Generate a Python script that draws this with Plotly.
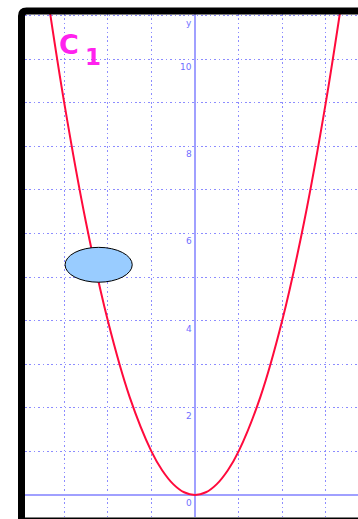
import plotly.graph_objects as go

# Curve C1 points
curve_x = [-3.4, -3.0, -2.5, -2.0, -1.5, -1.0, -0.75, -0.5, -0.25, 0.0,
           0.25, 0.5, 0.75, 1.0, 1.5, 2.0, 2.5, 3.0, 3.4]
curve_y = [11.56, 9.0, 6.25, 4.0, 2.25, 1.0, 0.5625, 0.25, 0.0625, 0.0,
           0.0625, 0.25, 0.5625, 1.0, 2.25, 4.0, 6.25, 9.0, 11.56]

# tick labels drawn along the y axis
y_tick_vals = [0, 2, 4, 6, 8, 10]
y_tick_text = ["0", "2", "4", "6", "8", "10"]

# blue ellipse (center / half-widths in data units)
ellipse_cx, ellipse_cy = -2.21, 5.28
ellipse_rx, ellipse_ry = 0.77, 0.40

label_text = ["C", "1"]

W, H = 358, 519
ML, MT, MB, MR = 25, 14, 2, 0
ppu = 43.6
x0_px, y0_px = 195, 495
x_range = [(ML - x0_px) / ppu, (W - MR - x0_px) / ppu]
y_range = [-(H - MB - y0_px) / ppu, (y0_px - MT) / ppu]

grid_col = "#8c8cff"
axis_col = "#a0a0ff"

fig = go.Figure()
fig.add_trace(go.Scatter(
    x=curve_x, y=curve_y, mode="lines",
    line=dict(color="#ff0a3c", width=2, shape="spline", smoothing=1.0),
    hoverinfo="skip", showlegend=False,
))

annotations = []
for v, t in zip(y_tick_vals, y_tick_text):
    annotations.append(dict(
        x=0, y=v, xref="x", yref="y", text=t, showarrow=False,
        xanchor="right", yanchor="top", xshift=-1, yshift=-1,
        font=dict(size=9, color="#7070ff", family="DejaVu Sans"),
    ))
annotations.append(dict(
    x=0, y=y_range[1], xref="x", yref="y", text="y", showarrow=False,
    xanchor="right", yanchor="top", xshift=-1, yshift=-2,
    font=dict(size=9, color="#7070ff", family="DejaVu Sans"),
))
annotations.append(dict(
    x=-2.9, y=10.33, xref="x", yref="y", text="<b>" + label_text[0] + "</b>", showarrow=False,
    xanchor="center", yanchor="middle",
    font=dict(size=27, color="#ff22ee", family="DejaVu Sans"),
))
annotations.append(dict(
    x=-2.35, y=10.05, xref="x", yref="y", text="<b>" + label_text[1] + "</b>", showarrow=False,
    xanchor="center", yanchor="middle",
    font=dict(size=23, color="#ff22ee", family="DejaVu Sans"),
))

def px_to_paper_x(px):
    return (px - ML) / (W - ML - MR)

def px_to_paper_y(py):
    return (H - MB - py) / (H - MT - MB)

shapes = [
    dict(type="circle", xref="x", yref="y",
         x0=ellipse_cx - ellipse_rx, x1=ellipse_cx + ellipse_rx,
         y0=ellipse_cy - ellipse_ry, y1=ellipse_cy + ellipse_ry,
         fillcolor="#99ccff", line=dict(color="black", width=1), layer="above"),
]
# black frame
fl, ft, fb, fr = px_to_paper_x(21.5), px_to_paper_y(11), px_to_paper_y(521), px_to_paper_x(370)
rx = 5 / (W - ML - MR)
ry = 5 / (H - MT - MB)
path = (f"M {fl},{fb} L {fl},{ft - ry} Q {fl},{ft} {fl + rx},{ft} L {fr},{ft}")
shapes.append(dict(type="path", xref="paper", yref="paper", path=path,
                   line=dict(color="black", width=7), layer="above"))
shapes.append(dict(type="line", xref="paper", yref="paper",
                   x0=fl, x1=fr, y0=fb, y1=fb, line=dict(color="black", width=7)))

fig.update_layout(
    width=W, height=H,
    margin=dict(l=ML, r=MR, t=MT, b=MB, pad=0),
    paper_bgcolor="white", plot_bgcolor="white",
    xaxis=dict(range=x_range, dtick=1, tick0=0, showgrid=True, gridcolor=grid_col,
               griddash="1.5px,2.9px", gridwidth=1, zeroline=True, zerolinecolor=axis_col,
               zerolinewidth=2, showticklabels=False, ticks="", showline=False,
               fixedrange=True),
    yaxis=dict(range=y_range, dtick=1, tick0=0, showgrid=True, gridcolor=grid_col,
               griddash="1.5px,2.9px", gridwidth=1, zeroline=True, zerolinecolor=axis_col,
               zerolinewidth=2, showticklabels=False, ticks="", showline=False,
               fixedrange=True),
    annotations=annotations,
    shapes=shapes,
    showlegend=False,
)

fig.write_html(
    "out.html",
    config={"displayModeBar": False},
    post_script="document.body.style.margin='0';document.body.style.overflow='hidden';",
)
